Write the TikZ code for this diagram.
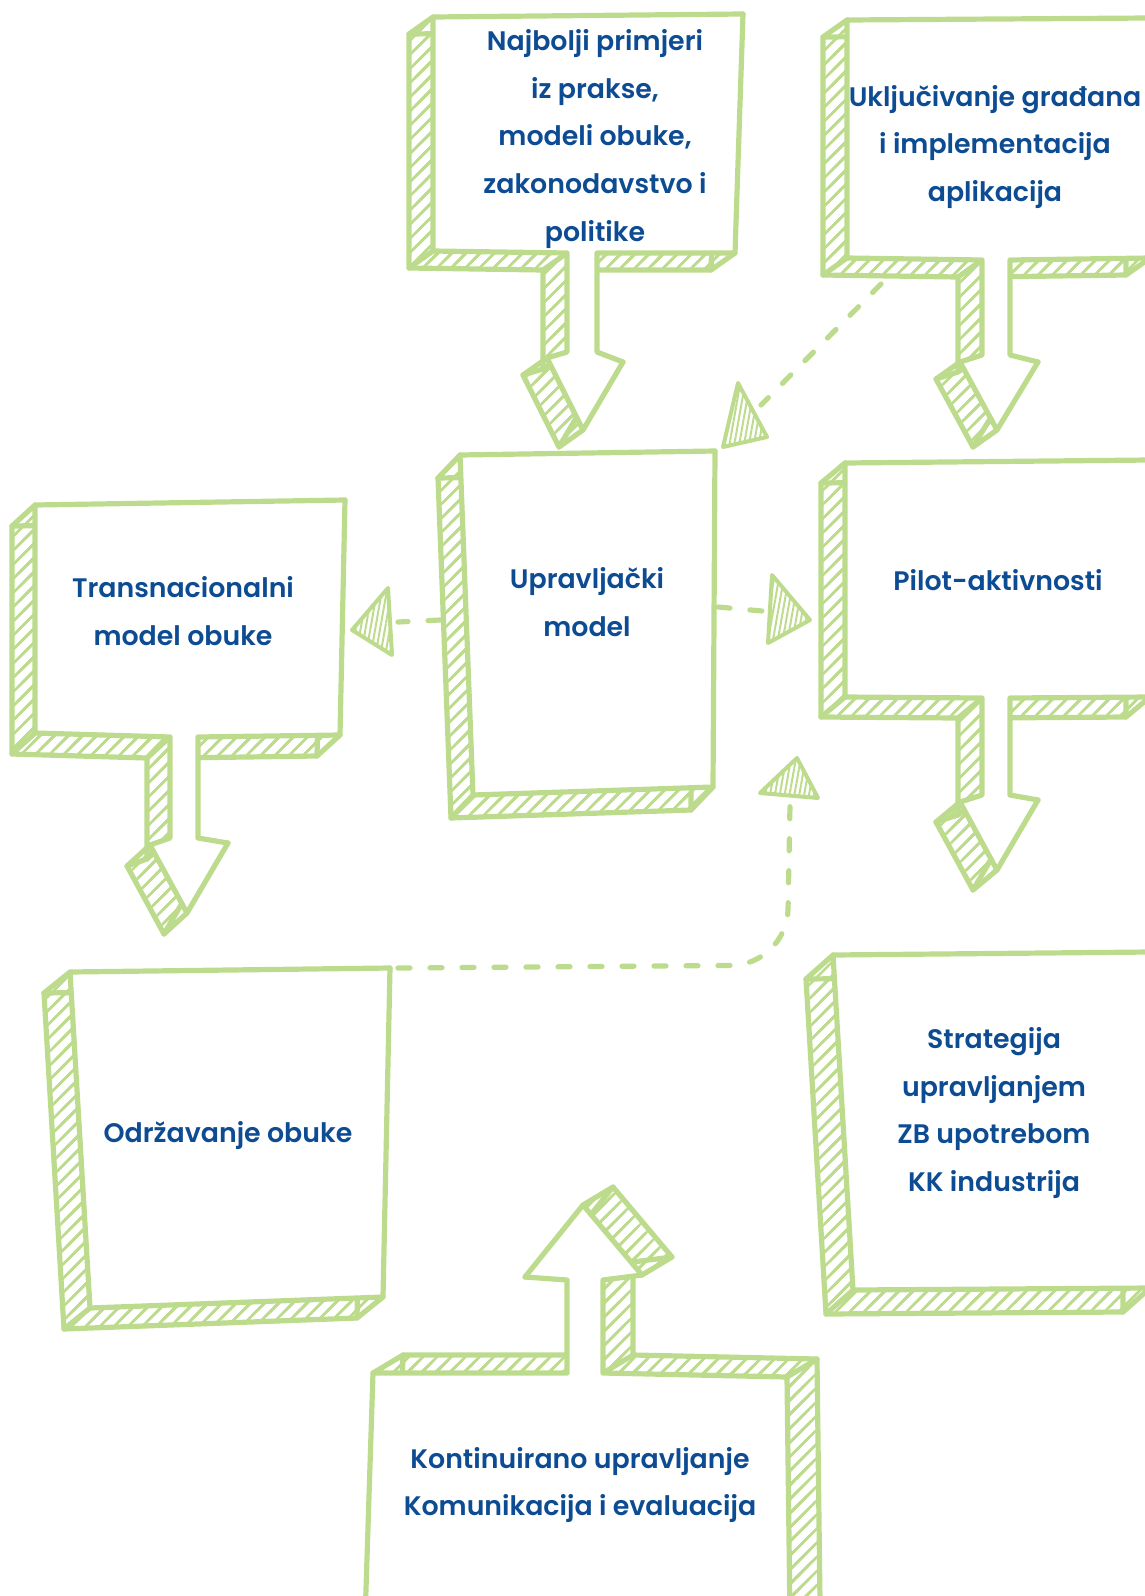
\documentclass[tikz,border=0pt]{standalone}
\usepackage{fontspec}
\setmainfont{Poppins}
\newfontfamily\lblfont{Poppins SemiBold}
\usetikzlibrary{patterns.meta}
\definecolor{sketchgreen}{HTML}{BDDB8C}
\definecolor{inkblue}{HTML}{0D4C92}
\tikzset{
  sketchline/.style={draw=sketchgreen,line width=2.6pt,line join=round,line cap=round},
  hatchfill/.style={pattern={Lines[angle=45,distance=5pt,line width=1.2pt]},pattern color=sketchgreen},
  lbl/.style={text=inkblue,align=center,inner sep=0pt,font=\lblfont\fontsize{13.4}{23.9}\selectfont},
  dashlink/.style={draw=sketchgreen,line width=2.6pt,line cap=round,dash pattern=on 6pt off 10pt},
  headtri/.style={draw=sketchgreen,line width=2pt,line join=round,pattern={Lines[angle=80,distance=2.4pt,line width=1pt]},pattern color=sketchgreen},
}
% extruded sketch shape: #1 first corner, #2 other corners x/y, #3 #4 depth offset
\newcommand{\sketchbox}[4]{%
  \foreach \s in {0,0.125,...,1}
    \fill[hatchfill,shift={({#3*\s},{#4*\s})}] (#1) \foreach \x/\y in {#2}{-- (\x,\y)} -- cycle;
  \draw[sketchline,shift={(#3,#4)}] (#1) \foreach \x/\y in {#2}{-- (\x,\y)} -- cycle;
  \draw[sketchline] (#1) -- ++(#3,#4) \foreach \x/\y in {#2}{(\x,\y) -- ++(#3,#4)};
  \filldraw[sketchline,fill=white] (#1) \foreach \x/\y in {#2}{-- (\x,\y)} -- cycle;
}

\begin{document}
\begin{tikzpicture}[x=0.5pt,y=-0.5pt]
  \useasboundingbox (0,0) rectangle (1145,1596);
  \clip (0,0) rectangle (1145,1596);
  % callouts with stem downwards
  \sketchbox{433,17}{743/14,735/253,597/253,597/352,623/362,583/430,547/358,567/352,567/253,433/251}{-24}{17}
  \sketchbox{847,20}{1150/18,1150/258,1010/260,1010/355,1038/362,997/430,960/362,982/355,982/260,847/258}{-24}{17}
  \sketchbox{35,505}{345/500,340/735,198/737,198/838,228/843,187/913,150/845,170/838,170/737,35/733}{-23}{21}
  \sketchbox{845,463}{1150/460,1150/697,1010/698,1010/795,1038/800,997/870,960/802,982/795,982/698,845/697}{-24}{20}
  % plain boxes
  \sketchbox{460,455}{715/451,713/787,473/795}{-22}{23}
  \sketchbox{70,972}{390/968,383/1297,90/1308}{-26}{21}
  \sketchbox{833,955}{1150/952,1150/1288,853/1290}{-27}{24}
  % callout with stem upwards
  \sketchbox{373,1373}{567/1373,567/1280,525/1277,583/1205,642/1275,603/1280,603/1373,787/1377,790/1620,365/1620}{30}{-18}

  \node[lbl] (najbolji) at (595,139) {Najbolji primjeri\\iz prakse,\\modeli obuke,\\zakonodavstvo i\\politike};
  \node[lbl] (ukljucivanje) at (995,147) {Uključivanje građana\\i implementacija\\aplikacija};
  \node[lbl] (transnacionalni) at (183,611) {Transnacionalni\\model obuke};
  \node[lbl] (upravljacki) at (587,602) {Upravljački\\model};
  \node[lbl] (pilot) at (998,580) {Pilot-aktivnosti};
  \node[lbl] (odrzavanje) at (228,1136) {Održavanje obuke};
  \node[lbl] (strategija) at (994,1113) {Strategija\\upravljanjem\\ZB upotrebom\\KK industrija};
  \node[lbl] (kontinuirano) at (580,1485) {Kontinuirano upravljanje\\Komunikacija i evaluacija};

  % dashed links
  \coordinate (ukl-tail) at (881,284);
  \coordinate (upr-ne) at (761,405);
  \coordinate (upr-e) at (718,607);
  \coordinate (pil-w) at (762,611);
  \coordinate (upr-w) at (440,620);
  \coordinate (tra-e) at (398,622);
  \coordinate (odr-ne) at (398,968);
  \coordinate (upr-se) at (790,805);
  \draw[dashlink] (ukl-tail) -- (upr-ne);
  \draw[dashlink] (upr-e) -- (pil-w);
  \draw[dashlink] (upr-w) -- (tra-e);
  \draw[dashlink,rounded corners=28] (odr-ne) -- (787,965) -- (upr-se);
  \filldraw[headtri] (738,383) -- (723,447) -- (767,437) -- cycle;
  \filldraw[headtri] (772,575) -- (810,620) -- (768,643) -- cycle;
  \filldraw[headtri] (352,630) -- (388,588) -- (392,655) -- cycle;
  \filldraw[headtri] (797,758) -- (760,793) -- (818,798) -- cycle;
\end{tikzpicture}
\end{document}
